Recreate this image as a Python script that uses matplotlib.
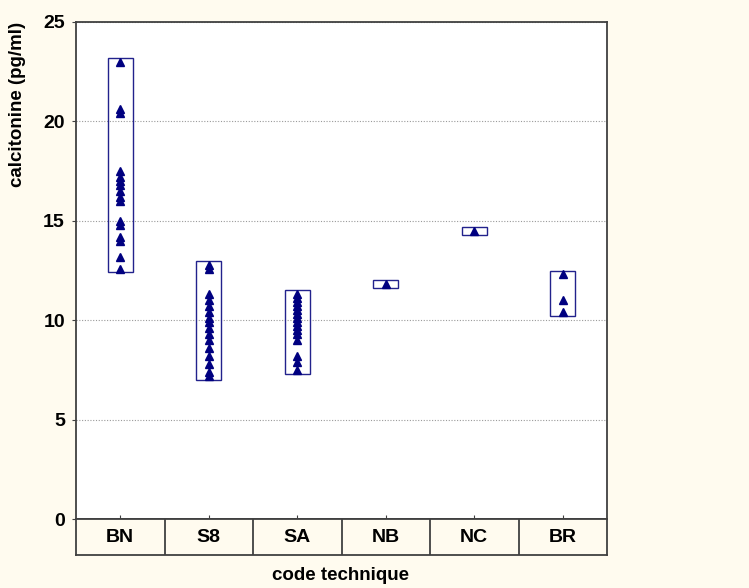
import numpy as np
import matplotlib.pyplot as plt

plt.rcParams['font.family'] = ['Liberation Sans', 'DejaVu Sans']

categories = ['BN', 'S8', 'SA', 'NB', 'NC', 'BR']
bn = [23.0, 20.6, 20.4, 17.5, 17.2, 17.0, 16.8, 16.5, 16.2, 16.0, 15.0, 14.8, 14.2, 14.0, 13.2, 12.6]
s8 = [12.8, 12.6, 11.3, 11.0, 10.7, 10.4, 10.1, 9.9, 9.6, 9.3, 9.0, 8.6, 8.2, 7.8, 7.4, 7.2]
sa = [11.3, 11.1, 10.9, 10.7, 10.5, 10.3, 10.1, 9.9, 9.7, 9.5, 9.3, 9.0, 8.2, 7.9, 7.5]
nb = [11.8]
nc = [14.5]
br = [12.3, 11.0, 10.4]
groups = [bn, s8, sa, nb, nc, br]

bg = '#fffbef'
navy = '#000080'
edge = '#404040'

fig = plt.figure(figsize=(7.49, 5.88), dpi=100, facecolor=bg)
ax = fig.add_axes([76/749, 1-519/588, 531/749, 497/588])
band = fig.add_axes([76/749, 1-555/588, 531/749, 36/588], sharex=ax)

pad = 0.2
w = 0.28
for i, vals in enumerate(groups):
    lo, hi = min(vals) - pad, max(vals) + pad
    ax.add_patch(plt.Rectangle((i - w/2, lo), w, hi - lo, fill=False,
                               edgecolor='#22228c', lw=1.0, zorder=3))
    ax.plot([i]*len(vals), vals, ls='none', marker='^', ms=6,
            color=navy, zorder=4)

ax.set_xlim(-0.5, len(categories) - 0.5)
ax.set_ylim(0, 25)
ax.set_yticks(np.arange(0, 26, 5))
ax.set_xticks(range(len(categories)))
ax.set_xticklabels([])
ax.tick_params(axis='x', direction='in', length=3, color=edge)
ax.tick_params(axis='y', direction='out', length=3, pad=5, labelsize=14, color=edge)
for t in ax.get_yticklabels():
    t.set_fontweight('bold')
ax.grid(axis='y', ls=(0, (1, 1.5)), color='#9a9a9a', lw=0.8)
ax.set_axisbelow(True)
for s in ax.spines.values():
    s.set_color(edge)
    s.set_linewidth(1.3)

band.set_facecolor(bg)
band.set_ylim(0, 1)
band.set_yticks([])
band.tick_params(axis='x', length=0, labelbottom=False)
for i, c in enumerate(categories):
    band.text(i, 0.5, c, ha='center', va='center', fontsize=14, fontweight='bold')
    if i > 0:
        band.axvline(i - 0.5, color=edge, lw=1.3)
for s in band.spines.values():
    s.set_color(edge)
    s.set_linewidth(1.3)

fig.text(18/749, 1-22/588, 'calcitonine (pg/ml)', rotation=90, ha='center',
         va='top', fontsize=13.5, fontweight='bold')
fig.text(341/749, 1-575/588, 'code technique', ha='center', va='center',
         fontsize=13.5, fontweight='bold')

fig.savefig('out.png', dpi=100, facecolor=bg)
